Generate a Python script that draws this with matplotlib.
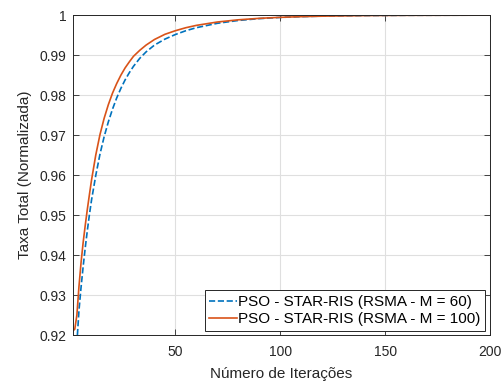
import matplotlib.pyplot as plt
import numpy as np

# Dados
iteracoes = [1, 2, 3, 4, 5, 6, 7, 8, 9, 10, 12, 14, 16, 18, 20, 22, 24, 26, 28, 30,
             33, 36, 40, 45, 50, 55, 60, 70, 80, 90, 100, 110, 120, 140, 160, 200]
taxa_m60 = [0.9000, 0.9090, 0.9180, 0.9262, 0.9320, 0.9372, 0.9419, 0.9462, 0.9502, 0.9538,
            0.9599, 0.9652, 0.9696, 0.9733, 0.9765, 0.9793, 0.9817, 0.9838, 0.9856, 0.9872,
            0.9892, 0.9908, 0.9925, 0.9940, 0.99515, 0.9961, 0.99685, 0.99795, 0.99866, 0.99912,
            0.99942, 0.99962, 0.99975, 0.99989, 0.99995, 0.99999]
taxa_m100 = [0.9210, 0.9215, 0.9250, 0.9322, 0.9382, 0.9432, 0.9475, 0.9515, 0.9552, 0.9588,
             0.9650, 0.9701, 0.9742, 0.9776, 0.9805, 0.9829, 0.9850, 0.9868, 0.9883, 0.9897,
             0.9912, 0.9925, 0.9939, 0.9952, 0.9961, 0.99685, 0.99743, 0.99827, 0.99882, 0.99919,
             0.99944, 0.99961, 0.99973, 0.99987, 0.99994, 0.99999]
rotulos = ['PSO - STAR-RIS (RSMA - M = 60)', 'PSO - STAR-RIS (RSMA - M = 100)']

plt.rcParams['font.family'] = ['Liberation Sans', 'DejaVu Sans']

fig = plt.figure(figsize=(5.03, 3.87), dpi=100)
ax = fig.add_axes([0.1445, 0.134, 0.8295, 0.827])

ax.plot(iteracoes, taxa_m60, color='#0072BD', linestyle='--', linewidth=1.2, label=rotulos[0])
ax.plot(iteracoes, taxa_m100, color='#D95319', linestyle='-', linewidth=1.2, label=rotulos[1])

ax.set_xlim(1, 200)
ax.set_ylim(0.92, 1.0)
ax.set_xticks([50, 100, 150, 200])
yt = np.round(np.arange(0.92, 1.0001, 0.01), 2)
ax.set_yticks(yt)
ax.set_yticklabels(['1' if v == 1 else f'{v:.2f}' for v in yt])

ax.grid(True, color='#DFDFDF', linewidth=0.8)
ax.set_axisbelow(True)
ax.tick_params(direction='in', length=4, width=0.6, colors='#262626', labelsize=10, top=True, right=True)
ax.tick_params(axis='x', pad=7)
ax.tick_params(axis='y', pad=4.5)
for s in ax.spines.values():
    s.set_color('#262626')
    s.set_linewidth(0.7)

ax.set_xlabel('Número de Iterações', fontsize=11, color='#262626', labelpad=6)
ax.set_ylabel('Taxa Total (Normalizada)', fontsize=11, color='#262626', labelpad=5)

leg = ax.legend(loc='lower right', fontsize=11, handlelength=1.8, handletextpad=0.1,
                borderaxespad=0.3, borderpad=0.3, labelspacing=0.2, fancybox=False,
                framealpha=1, edgecolor='#262626')
leg.get_frame().set_linewidth(0.7)

plt.savefig('out.png', dpi=100)
